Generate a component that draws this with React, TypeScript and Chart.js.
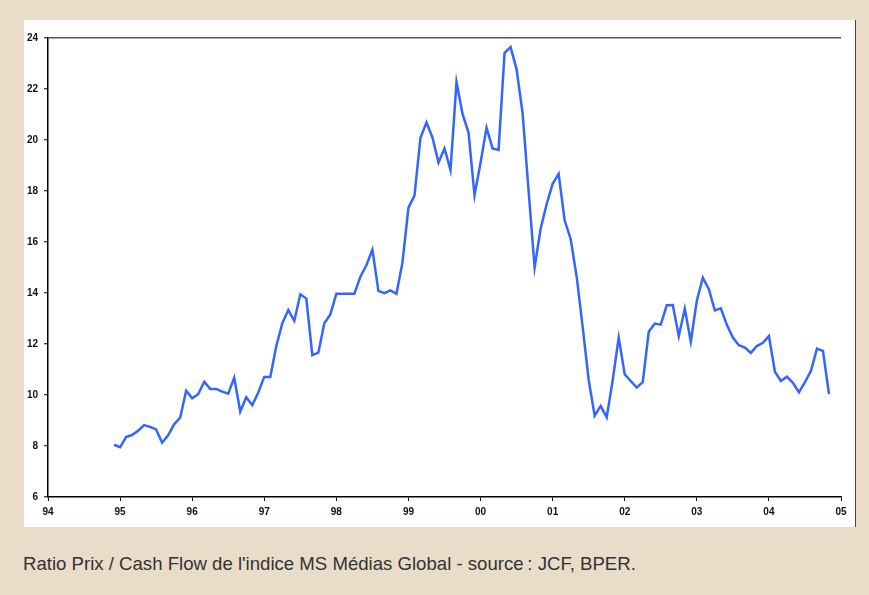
import React, { useEffect, useRef } from "react";
import { Chart, registerables } from "chart.js";

Chart.register(...registerables);

// Monthly Price / Cash Flow ratio, Dec 1994 – Nov 2004
const years = [1994, 1995, 1996, 1997, 1998, 1999, 2000, 2001, 2002, 2003, 2004];
const firstMonthOfYear = [11, 0, 0, 0, 0, 0, 0, 0, 0, 0, 0]; // 0-based month of first value in each year
const v1994 = [8.05];
const v1995 = [7.95, 8.35, 8.43, 8.6, 8.82, 8.75, 8.65, 8.13, 8.42, 8.85, 9.11, 10.17];
const v1996 = [9.87, 10.03, 10.52, 10.24, 10.24, 10.13, 10.05, 10.68, 9.35, 9.91, 9.6, 10.1];
const v1997 = [10.71, 10.71, 11.92, 12.81, 13.33, 12.91, 13.95, 13.78, 11.56, 11.66, 12.81, 13.16];
const v1998 = [13.97, 13.97, 13.97, 13.97, 14.64, 15.09, 15.7, 14.08, 13.99, 14.1, 13.97, 15.19];
const v1999 = [17.35, 17.82, 20.09, 20.69, 20.09, 19.12, 19.67, 18.82, 22.27, 21.02, 20.29, 17.83];
const v2000 = [19.11, 20.48, 19.67, 19.61, 23.42, 23.64, 22.77, 21.05, 18.0, 15.0, 16.52, 17.48];
const v2001 = [18.28, 18.67, 16.85, 16.12, 14.64, 12.67, 10.59, 9.19, 9.57, 9.12, 10.59, 12.25];
const v2002 = [10.81, 10.55, 10.29, 10.5, 12.48, 12.8, 12.76, 13.52, 13.53, 12.31, 13.38, 12.09];
const v2003 = [13.7, 14.6, 14.15, 13.32, 13.4, 12.75, 12.25, 11.95, 11.86, 11.65, 11.92, 12.05];
const v2004 = [12.31, 10.91, 10.55, 10.72, 10.48, 10.1, 10.5, 10.95, 11.82, 11.73, 10.04];
const valuesByYear = [v1994, v1995, v1996, v1997, v1998, v1999, v2000, v2001, v2002, v2003, v2004];

const xMin = 1994;
const xMax = 2005;
const yMin = 6;
const yMax = 24;
const yStep = 2;

const caption = "Ratio Prix / Cash Flow de l'indice MS Médias Global - source\u2009: JCF, BPER.";

function buildPoints() {
  const pts: { x: number; y: number }[] = [];
  years.forEach((yr, i) => {
    valuesByYear[i].forEach((v, j) => {
      pts.push({ x: yr + (firstMonthOfYear[i] + j) / 12, y: v });
    });
  });
  return pts;
}

const FONT = "'Liberation Sans', Arial, Helvetica, sans-serif";

export default function App() {
  const canvasRef = useRef<HTMLCanvasElement | null>(null);

  useEffect(() => {
    document.body.style.margin = "0";
    const canvas = canvasRef.current;
    if (!canvas) return;
    const chart = new Chart(canvas, {
      type: "line",
      data: {
        datasets: [
          {
            data: buildPoints(),
            borderColor: "#3366ff",
            borderWidth: 2.5,
            pointRadius: 0,
            tension: 0,
            fill: false,
          },
        ],
      },
      options: {
        animation: false,
        responsive: false,
        maintainAspectRatio: false,
        parsing: false as any,
        layout: { padding: { top: 18, right: 14, bottom: 0, left: 0 } },
        plugins: {
          legend: { display: false },
          tooltip: { enabled: false },
          title: { display: false },
        },
        scales: {
          x: {
            type: "linear",
            min: xMin,
            max: xMax,
            afterFit: (s: any) => {
              s.height = 30;
            },
            afterBuildTicks: (s: any) => {
              const t = [];
              for (let v = xMin; v <= xMax; v++) t.push({ value: v });
              s.ticks = t;
            },
            ticks: {
              autoSkip: false,
              maxRotation: 0,
              padding: 5,
              color: "#111",
              font: { family: FONT, size: 10, weight: "bold" },
              callback: (v: any) => String(Math.round(Number(v)) % 100).padStart(2, "0"),
            },
            grid: {
              display: true,
              drawOnChartArea: false,
              drawTicks: true,
              tickLength: 4,
              tickColor: "#000",
              tickWidth: 1,
            },
            border: { display: true, color: "#000", width: 1.5 },
          },
          y: {
            type: "linear",
            min: yMin,
            max: yMax,
            afterFit: (s: any) => {
              s.width = 24;
            },
            ticks: {
              stepSize: yStep,
              padding: 6,
              color: "#111",
              font: { family: FONT, size: 10, weight: "bold" },
            },
            grid: {
              display: true,
              drawOnChartArea: true,
              drawTicks: true,
              tickLength: 4,
              tickColor: "#000",
              tickWidth: 1,
              lineWidth: 1.5,
              color: (ctx: any) => (ctx.tick && ctx.tick.value === yMax ? "#555" : "rgba(0,0,0,0)"),
            },
            border: { display: true, color: "#000", width: 1.5 },
          },
        },
      },
    });
    return () => chart.destroy();
  }, []);

  return (
    <div
      style={{
        position: "fixed",
        left: 0,
        top: 0,
        width: 869,
        height: 595,
        background: "#e9dcc9",
        overflow: "hidden",
      }}
    >
      <div
        style={{
          position: "absolute",
          left: 24,
          top: 20,
          width: 831,
          height: 507,
          background: "#ffffff",
          borderRight: "1px solid #444",
        }}
      >
        <canvas ref={canvasRef} width={831} height={507} style={{ display: "block" }} />
      </div>
      <div
        style={{
          position: "absolute",
          left: 23,
          top: 553,
          fontFamily: FONT,
          fontSize: 18.6,
          lineHeight: "22px",
          color: "#333",
          whiteSpace: "nowrap",
        }}
      >
        {caption}
      </div>
    </div>
  );
}
